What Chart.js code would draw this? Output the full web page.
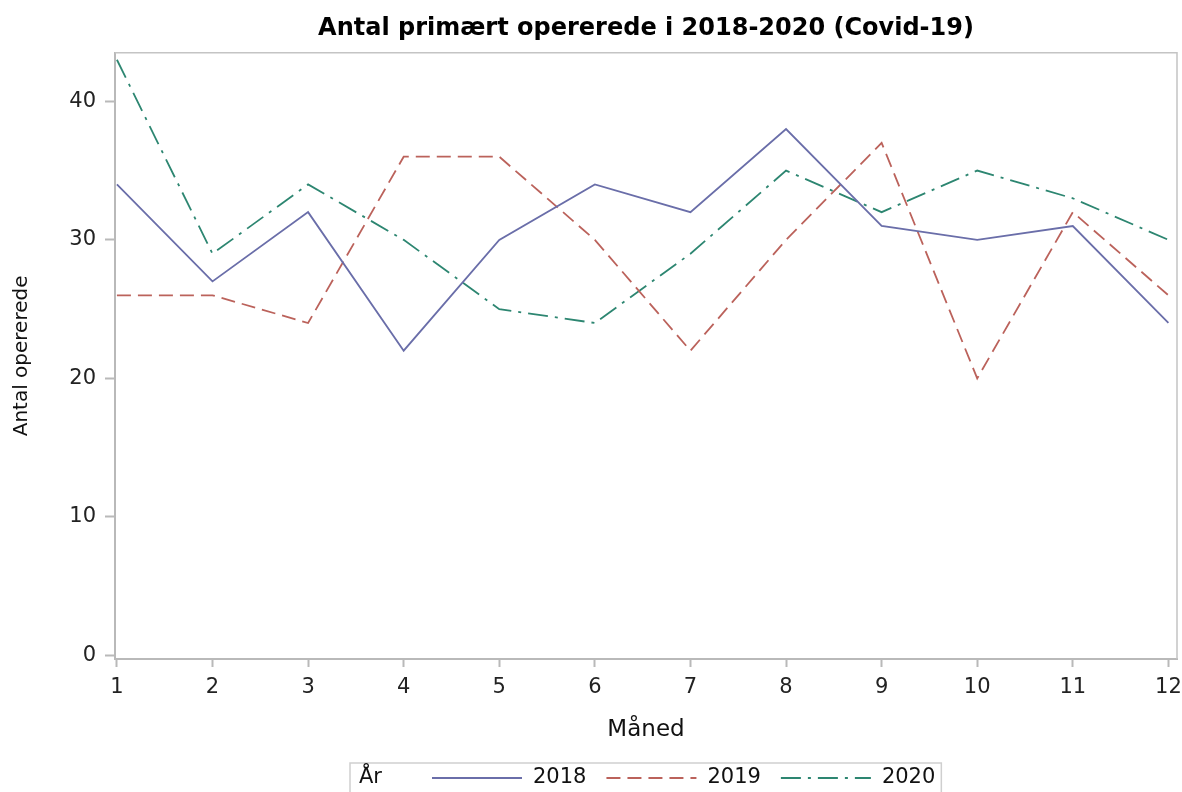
<!DOCTYPE html>
<html>
<head>
<meta charset="utf-8">
<script src="https://cdn.jsdelivr.net/npm/chart.js@4.4.1/dist/chart.umd.min.js"></script>
<style>
  html, body { margin: 0; padding: 0; background: #fff; }
  #wrap { width: 1182px; height: 792px; }
</style>
</head>
<body>
<div id="wrap"><canvas id="chart" width="1182" height="792"></canvas></div>
<script>
// data
const months = [1, 2, 3, 4, 5, 6, 7, 8, 9, 10, 11, 12];
const yTicks = [0, 10, 20, 30, 40];
const years = ['2018', '2019', '2020'];
const ops2018 = [34, 27, 32, 22, 30, 34, 32, 38, 31, 30, 31, 24];
const ops2019 = [26, 26, 24, 36, 36, 30, 22, 30, 37, 20, 32, 26];
const ops2020 = [43, 29, 34, 30, 25, 24, 29, 35, 32, 35, 33, 30];

const FONT = "'DejaVu Sans', sans-serif";
const AXIS_GREY = '#b9b9b9';

function toPoints(vals) {
    return months.map((m, i) => ({ x: m, y: vals[i] }));
}

// frame round the plot + the inline legend with "År" at the bottom
const frameAndLegend = {
    id: 'frameAndLegend',
    beforeDatasetsDraw(chart) {
        const { ctx, chartArea: a } = chart;
        ctx.save();
        ctx.strokeStyle = '#c4c4c4';
        ctx.lineWidth = 1.5;
        ctx.beginPath();
        ctx.moveTo(a.left, a.top);
        ctx.lineTo(a.right, a.top);
        ctx.lineTo(a.right, a.bottom);
        ctx.stroke();
        ctx.restore();
    },
    afterDraw(chart) {
        const { ctx, chartArea: a } = chart;
        ctx.save();
        ctx.font = '21px ' + FONT;
        ctx.textBaseline = 'middle';
        const lineLen = 90, gapTitle = 50, gapText = 11, gapItem = 20;
        const ds = chart.data.datasets;
        let total = ctx.measureText('År').width + gapTitle;
        ds.forEach((d, i) => {
            total += lineLen + gapText + ctx.measureText(d.label).width;
            if (i < ds.length - 1) total += gapItem;
        });
        const boxW = total + 15;
        const boxX = Math.round((a.left + a.right) / 2 - boxW / 2);
        const boxY = 763;
        const cy = 778;
        ctx.strokeStyle = '#cfcfcf';
        ctx.lineWidth = 1.5;
        ctx.strokeRect(boxX, boxY, boxW, 40);

        let x = boxX + 9;
        ctx.fillStyle = '#111';
        ctx.fillText('År', x, cy);
        x += ctx.measureText('År').width + gapTitle;
        ds.forEach(d => {
            ctx.strokeStyle = d.borderColor;
            ctx.lineWidth = d.borderWidth;
            ctx.setLineDash(d.borderDash || []);
            ctx.beginPath();
            ctx.moveTo(x, cy);
            ctx.lineTo(x + lineLen, cy);
            ctx.stroke();
            ctx.setLineDash([]);
            x += lineLen + gapText;
            ctx.fillStyle = '#111';
            ctx.fillText(d.label, x, cy);
            x += ctx.measureText(d.label).width + gapItem;
        });
        ctx.restore();
    }
};

const ctx = document.getElementById('chart').getContext('2d');

new Chart(ctx, {
    type: 'line',
    data: {
        datasets: [
            {
                label: years[0],
                data: toPoints(ops2018),
                borderColor: '#6a6ea9',
                borderWidth: 1.8,
                borderDash: []
            },
            {
                label: years[1],
                data: toPoints(ops2019),
                borderColor: '#bb625b',
                borderWidth: 1.8,
                borderDash: [14, 7]
            },
            {
                label: years[2],
                data: toPoints(ops2020),
                borderColor: '#2d8671',
                borderWidth: 1.8,
                borderDash: [20, 7, 3, 7]
            }
        ]
    },
    options: {
        responsive: false,
        animation: false,
        events: [],
        elements: {
            point: { radius: 0 },
            line: { tension: 0, fill: false }
        },
        layout: {
            padding: { left: 0, right: 5, top: 0, bottom: 38 }
        },
        plugins: {
            legend: { display: false },
            tooltip: { enabled: false },
            title: {
                display: true,
                fullSize: false,
                text: 'Antal primært opererede i 2018-2020 (Covid-19)',
                color: '#000',
                font: { family: FONT, size: 24, weight: 'bold' },
                padding: { top: 14, bottom: 10 }
            }
        },
        scales: {
            x: {
                type: 'linear',
                min: 0.98,
                max: 12.09,
                afterBuildTicks: s => { s.ticks = months.map(v => ({ value: v })); },
                afterFit: s => { s.height = 95; s.paddingLeft = 0; s.paddingRight = 0; },
                grid: {
                    drawOnChartArea: false,
                    drawTicks: true,
                    tickLength: 8,
                    tickWidth: 2,
                    tickColor: AXIS_GREY
                },
                border: { color: AXIS_GREY, width: 2 },
                ticks: {
                    color: '#222',
                    padding: 8,
                    maxRotation: 0,
                    font: { family: FONT, size: 21 }
                },
                title: {
                    display: true,
                    text: 'Måned',
                    color: '#111',
                    font: { family: FONT, size: 23 },
                    padding: { top: 4, bottom: 10 }
                }
            },
            y: {
                min: -0.25,
                max: 43.5,
                afterBuildTicks: s => { s.ticks = yTicks.map(v => ({ value: v })); },
                afterFit: s => { s.width = 115; },
                grid: {
                    drawOnChartArea: false,
                    drawTicks: true,
                    tickLength: 10,
                    tickWidth: 2,
                    tickColor: AXIS_GREY
                },
                border: { color: AXIS_GREY, width: 2 },
                ticks: {
                    color: '#222',
                    padding: 9,
                    font: { family: FONT, size: 21 }
                },
                title: {
                    display: true,
                    text: 'Antal opererede',
                    color: '#111',
                    font: { family: FONT, size: 20 },
                    padding: { top: 10, bottom: 4 }
                }
            }
        }
    },
    plugins: [frameAndLegend]
});
</script>
</body>
</html>
